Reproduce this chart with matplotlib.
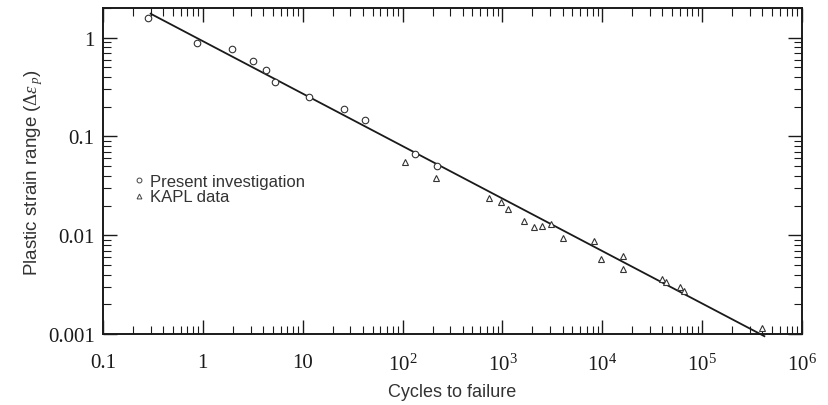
import matplotlib
matplotlib.use("Agg")
import matplotlib.pyplot as plt
from matplotlib.ticker import LogLocator, FixedLocator, FixedFormatter, NullFormatter
from matplotlib.lines import Line2D

# Present investigation (circles)
present_cycles = [0.28, 0.88, 1.98, 3.19, 4.33, 5.33, 11.6, 25.9, 42.3, 132, 219]
present_strain = [1.58, 0.89, 0.76, 0.575, 0.47, 0.356, 0.25, 0.188, 0.148, 0.066, 0.050]

# KAPL data (triangles)
kapl_cycles = [105, 214, 730, 970, 1130, 1660, 2060, 2490, 3070, 4010, 8320, 9700,
               15970, 16000, 39500, 43300, 59800, 66100, 401000]
kapl_strain = [0.055, 0.038, 0.0239, 0.0216, 0.0185, 0.0141, 0.0121, 0.0125, 0.013,
               0.0094, 0.0087, 0.0058, 0.0062, 0.0046, 0.0036, 0.00335, 0.0030,
               0.00275, 0.00114]

# Fitted line endpoints
fit_cycles = [0.3, 4.2e5]
fit_strain = [1.75, 0.00095]

x_ticks = [0.1, 1, 10, 100, 1000, 1e4, 1e5, 1e6]
x_labels = ["0.1", "1", "10", r"$10^2$", r"$10^3$", r"$10^4$", r"$10^5$", r"$10^6$"]
y_ticks = [0.001, 0.01, 0.1, 1]
y_labels = ["0.001", "0.01", "0.1", "1"]

plt.rcParams['mathtext.fontset'] = 'custom'
plt.rcParams['mathtext.rm'] = 'Liberation Serif'
plt.rcParams['mathtext.it'] = 'Liberation Serif:italic'

fig = plt.figure(figsize=(8.29, 4.06), dpi=100)
ax = fig.add_axes([103/829, 1 - 335/406, (802-103)/829, (335-9)/406])

ink = '#1a1a1a'
ax.plot(fit_cycles, fit_strain, color=ink, lw=1.3, zorder=2, clip_on=False)
ax.plot(present_cycles, present_strain, linestyle='none', marker='o', ms=4.7,
        mfc='white', mec='#333333', mew=0.8, zorder=3)
ax.plot(kapl_cycles, kapl_strain, linestyle='none', marker='^', ms=4.8,
        mfc='white', mec='#333333', mew=0.8, zorder=3)

ax.set_xscale('log')
ax.set_yscale('log')
ax.set_xlim(0.1, 1e6)
ax.set_ylim(0.001, 2.0)

ax.xaxis.set_major_locator(FixedLocator(x_ticks))
ax.xaxis.set_major_formatter(FixedFormatter(x_labels))
ax.xaxis.set_minor_locator(LogLocator(base=10, subs=range(2, 10), numticks=20))
ax.xaxis.set_minor_formatter(NullFormatter())
ax.yaxis.set_major_locator(FixedLocator(y_ticks))
ax.yaxis.set_major_formatter(FixedFormatter(y_labels))
ax.yaxis.set_minor_locator(LogLocator(base=10, subs=range(2, 10), numticks=20))
ax.yaxis.set_minor_formatter(NullFormatter())

ax.tick_params(which='both', direction='in', top=True, right=True, color=ink)
ax.tick_params(which='major', length=10, width=1.0)
ax.tick_params(which='minor', length=6, width=0.8)
ax.tick_params(axis='x', which='major', pad=14)
ax.tick_params(axis='y', which='major', pad=6)
for lab in ax.get_xticklabels() + ax.get_yticklabels():
    lab.set_fontfamily('Liberation Serif')
    lab.set_fontsize(15)
    lab.set_color(ink)

for s in ax.spines.values():
    s.set_linewidth(1.4)
    s.set_color(ink)

ax.set_xlabel("Cycles to failure", fontsize=13, family='Liberation Sans', color='#333333', labelpad=6)
ax.set_ylabel(r"Plastic strain range ($\Delta\epsilon_{\;p}$)", fontsize=13.5,
              family='Liberation Sans', color='#333333', labelpad=2)

handles = [Line2D([], [], linestyle='none', marker='o', ms=3.5, mfc='white', mec='#444444', mew=0.7),
           Line2D([], [], linestyle='none', marker='^', ms=3.5, mfc='white', mec='#444444', mew=0.7)]
leg = ax.legend(handles, ["Present investigation", "KAPL data"], loc='center left',
                bbox_to_anchor=(0.033, 0.445), frameon=False, handlelength=0.6,
                handletextpad=0.35, labelspacing=0.05, borderpad=0,
                prop={'family': 'Liberation Sans', 'size': 12})
for t in leg.get_texts():
    t.set_color('#333333')

fig.savefig("out.png", dpi=100, facecolor='white')
